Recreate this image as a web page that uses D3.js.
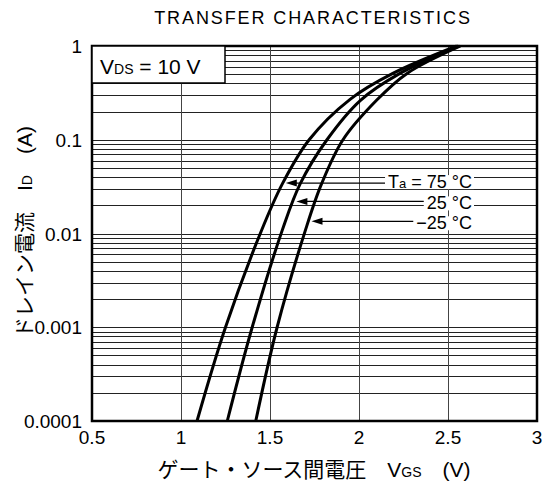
<!DOCTYPE html>
<html>
<head>
<meta charset="utf-8">
<script src="https://cdn.jsdelivr.net/npm/d3@7"></script>
<style>
  body { margin: 0; background: #fff; }
  svg text { font-family: "Liberation Sans", Arial, "Noto Sans CJK JP", sans-serif; fill: #000; }
  .jp { font-family: "Liberation Sans", "Noto Sans CJK JP", sans-serif; }
</style>
</head>
<body>
<svg id="chart" width="552" height="495"></svg>
<script>
// ---- data ----
const xTicks = [0.5, 1, 1.5, 2, 2.5, 3];
const yTicks = [1, 0.1, 0.01, 0.001, 0.0001];
const yTickLabels = ['1', '0.1', '0.01', '0.001', '0.0001'];

// VGS (V) vs ID (A)
const vgs75 = [1.09, 1.25, 1.45, 1.57, 1.72, 1.95, 2.19, 2.55];
const id75  = [1e-4, 1e-3, 0.0105, 0.034, 0.1, 0.27, 0.51, 1.0];
const vgs25 = [1.26, 1.40, 1.57, 1.67, 1.82, 2.01, 2.23, 2.56];
const id25  = [1e-4, 1e-3, 0.011, 0.034, 0.1, 0.265, 0.51, 1.0];
const vgsM25 = [1.42, 1.54, 1.70, 1.79, 1.91, 2.10, 2.27, 2.57];
const idM25  = [1e-4, 1e-3, 0.011, 0.034, 0.1, 0.265, 0.51, 1.0];

// where each curve label's arrow touches the curve (ID value)
const labelTemps = ['75 °C', '25 °C', '−25 °C'];
const labelAt = [0.0345, 0.022, 0.0135];

const svg = d3.select('#chart');
const mL = 92, mR = 537, mT = 46, mB = 421;

const x = d3.scaleLinear().domain([0.5, 3]).range([mL, mR]);
const y = d3.scaleLog().domain([0.0001, 1]).range([mB, mT]);

// Title
svg.append('text')
  .attr('x', 313).attr('y', 24)
  .attr('text-anchor', 'middle')
  .style('font-size', '18px')
  .style('letter-spacing', '1.9px')
  .text('TRANSFER CHARACTERISTICS');

// Horizontal log grid (1..9 per decade)
const minor = [];
for (let e = -4; e < 0; e++) {
  for (let m = 1; m < 10; m++) minor.push(m * Math.pow(10, e));
}
svg.append('g').selectAll('line')
  .data(minor)
  .enter().append('line')
    .attr('x1', mL).attr('x2', mR)
    .attr('y1', d => Math.round(y(d)) + 0.5)
    .attr('y2', d => Math.round(y(d)) + 0.5)
    .style('stroke', '#222')
    .style('stroke-width', 1);

// Vertical grid
svg.append('g').selectAll('line')
  .data(xTicks.slice(1, -1))
  .enter().append('line')
    .attr('x1', d => Math.round(x(d)) + 0.5)
    .attr('x2', d => Math.round(x(d)) + 0.5)
    .attr('y1', mT).attr('y2', mB)
    .style('stroke', '#444')
    .style('stroke-width', 1);

// Frame
svg.append('rect')
  .attr('x', mL).attr('y', mT)
  .attr('width', mR - mL).attr('height', mB - mT)
  .style('fill', 'none')
  .style('stroke', '#000')
  .style('stroke-width', 2.5);

// Tick labels
svg.append('g').selectAll('text')
  .data(xTicks)
  .enter().append('text')
    .attr('x', d => x(d))
    .attr('y', 444)
    .attr('text-anchor', 'middle')
    .style('font-size', '19px')
    .text(d => d);

svg.append('g').selectAll('text')
  .data(yTicks)
  .enter().append('text')
    .attr('x', 82)
    .attr('y', d => y(d) + 7)
    .attr('text-anchor', 'end')
    .style('font-size', '19px')
    .text((d, i) => yTickLabels[i]);

// Curves
const curves = [
  { v: vgs75, i: id75 },
  { v: vgs25, i: id25 },
  { v: vgsM25, i: idM25 }
];
const line = d3.line()
  .x(d => x(d[0]))
  .y(d => y(d[1]))
  .curve(d3.curveCatmullRom.alpha(0.5));

svg.append('g').selectAll('path')
  .data(curves)
  .enter().append('path')
    .attr('d', c => line(c.v.map((v, k) => [v, c.i[k]])))
    .style('fill', 'none')
    .style('stroke', '#000')
    .style('stroke-width', 3);

// interpolate VGS on a curve at a given current (log space)
function vAt(c, id) {
  const ly = Math.log10(id);
  for (let k = 0; k < c.i.length - 1; k++) {
    const a = Math.log10(c.i[k]), b = Math.log10(c.i[k + 1]);
    if (ly >= a && ly <= b) return c.v[k] + (c.v[k + 1] - c.v[k]) * (ly - a) / (b - a);
  }
  return c.v[0];
}

// Curve labels with leader arrows
const labelRight = 472;
const baseShift = [5, 8, 8]; // text baseline below its leader line
const lab = svg.append('g');
curves.forEach((c, k) => {
  const yy = y(labelAt[k]);
  const tipX = x(vAt(c, labelAt[k])) + 3;
  const t = lab.append('text')
    .attr('x', labelRight).attr('y', yy + baseShift[k])
    .attr('text-anchor', 'end')
    .style('font-size', '18px');
  if (k === 0) {
    t.append('tspan').text('T');
    t.append('tspan').style('font-size', '13px').text('a');
    t.append('tspan').text(' = ' + labelTemps[k]);
  } else {
    t.text(labelTemps[k]);
  }
  const bb = t.node().getBBox();
  lab.insert('rect', 'text')
    .attr('x', bb.x - 3).attr('y', bb.y + 3)
    .attr('width', bb.width + 5).attr('height', bb.height - 6)
    .style('fill', '#fff');
  lab.append('line')
    .attr('x1', tipX + 8).attr('x2', bb.x - 3)
    .attr('y1', yy).attr('y2', yy)
    .style('stroke', '#000').style('stroke-width', 1.2);
  lab.append('path')
    .attr('d', `M${tipX},${yy} l11,-3.5 l0,7 Z`)
    .style('fill', '#000');
});

// VDS box
svg.append('rect')
  .attr('x', mL).attr('y', mT)
  .attr('width', 133).attr('height', 37)
  .style('fill', '#fff')
  .style('stroke', '#000')
  .style('stroke-width', 1.5);
const vds = svg.append('text')
  .attr('x', 100).attr('y', 74)
  .style('font-size', '21px');
vds.append('tspan').text('V');
vds.append('tspan').style('font-size', '14px').text('DS');
vds.append('tspan').text(' = 10 V');

// Axis titles
const xl = svg.append('text')
  .attr('x', 314).attr('y', 477)
  .attr('text-anchor', 'middle')
  .style('font-size', '21px');
xl.append('tspan').attr('class', 'jp').text('ゲート・ソース間電圧　V');
xl.append('tspan').style('font-size', '14px').text('GS');
xl.append('tspan').text('　(V)');

const yl = svg.append('text')
  .attr('transform', 'translate(32,232) rotate(-90)')
  .attr('text-anchor', 'middle')
  .style('font-size', '21px');
yl.append('tspan').attr('class', 'jp').text('ドレイン電流　I');
yl.append('tspan').style('font-size', '14px').text('D');
yl.append('tspan').text('　(A)');
</script>
</body>
</html>
